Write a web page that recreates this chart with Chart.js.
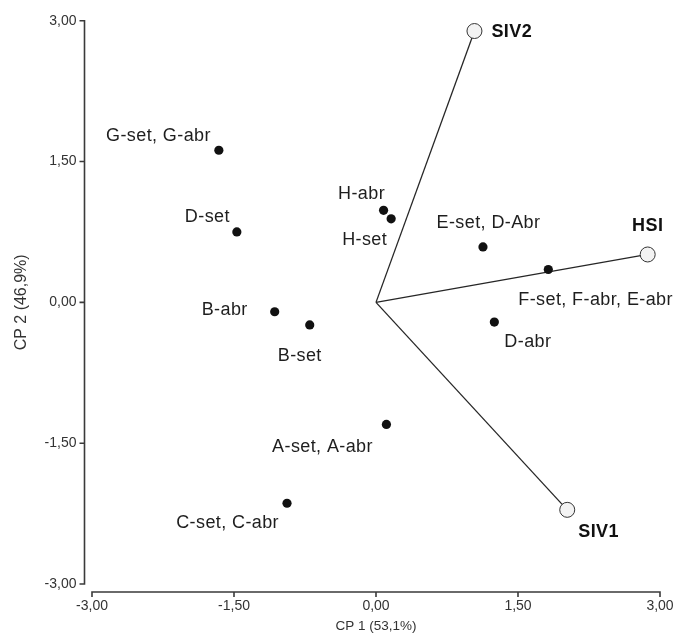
<!DOCTYPE html>
<html>
<head>
<meta charset="utf-8">
<script src="https://cdn.jsdelivr.net/npm/chart.js@4.4.0/dist/chart.umd.min.js"></script>
<style>
  html, body { margin: 0; padding: 0; background: #fff; }
  canvas { display: block; }
</style>
</head>
<body>
<canvas id="biplot" width="676" height="638"></canvas>
<script>
// Scores of the treatments on CP1 / CP2
const pointNames = [
  "G-set, G-abr", "D-set", "B-abr", "B-set", "C-set, C-abr", "A-set, A-abr",
  "H-abr", "H-set", "E-set, D-Abr", "F-set, F-abr, E-abr", "D-abr"
];
const pointX = [-1.66, -1.47, -1.07, -0.70, -0.94, 0.11, 0.08, 0.16, 1.13, 1.82, 1.25];
const pointY = [1.62, 0.75, -0.10, -0.24, -2.14, -1.30, 0.98, 0.89, 0.59, 0.35, -0.21];

// Loadings of the variables (vectors from the origin)
const vectorNames = ["SIV2", "HSI", "SIV1"];
const vectorX = [1.04, 2.87, 2.02];
const vectorY = [2.89, 0.51, -2.21];

const tickValues = [-3, -1.5, 0, 1.5, 3];
const xTitle = "CP 1 (53,1%)";
const yTitle = "CP 2 (46,9%)";

// where each name sits next to its dot, in px (baseline of the text)
const pointLabelPos = [
  { dx: -8, dy: -9.5, align: "right" },
  { dx: -7, dy: -10, align: "right" },
  { dx: -27, dy: 3.5, align: "right" },
  { dx: -10, dy: 36.5, align: "center" },
  { dx: -8, dy: 24.5, align: "right" },
  { dx: -13.5, dy: 27.5, align: "right" },
  { dx: 1.5, dy: -11.5, align: "right" },
  { dx: -4, dy: 26.5, align: "right" },
  { dx: 5.5, dy: -18.5, align: "center" },
  { dx: -30, dy: 35.5, align: "left" },
  { dx: 10, dy: 24.5, align: "left" }
];
const vectorLabelPos = [
  { dx: 17, dy: 6, align: "left" },
  { dx: 0, dy: -23.5, align: "center" },
  { dx: 11, dy: 27.5, align: "left" }
];

const fmt = v => v.toFixed(2).replace(".", ",");
const FONT = '"Liberation Sans", Arial, sans-serif';

// axes are drawn apart from the plot corner, like the original
const offsetAxes = {
  id: "offsetAxes",
  afterDraw(chart) {
    const { ctx, chartArea, scales: { x, y } } = chart;
    const ax = chartArea.left - 7.5;
    const ay = chartArea.bottom + 8;
    ctx.save();
    ctx.strokeStyle = "#3a3a3a";
    ctx.lineWidth = 1.6;
    ctx.beginPath();
    ctx.moveTo(ax, y.getPixelForValue(tickValues[tickValues.length - 1]));
    ctx.lineTo(ax, y.getPixelForValue(tickValues[0]));
    tickValues.forEach(v => {
      const py = y.getPixelForValue(v);
      ctx.moveTo(ax + 0.8, py);
      ctx.lineTo(ax - 5, py);
    });
    ctx.moveTo(x.getPixelForValue(tickValues[0]), ay);
    ctx.lineTo(x.getPixelForValue(tickValues[tickValues.length - 1]), ay);
    tickValues.forEach(v => {
      const px = x.getPixelForValue(v);
      ctx.moveTo(px, ay - 0.8);
      ctx.lineTo(px, ay + 5);
    });
    ctx.stroke();
    ctx.restore();
  }
};

const nameLabels = {
  id: "nameLabels",
  afterDatasetsDraw(chart) {
    const ctx = chart.ctx;
    ctx.save();
    ctx.fillStyle = "#1e1e1e";
    ctx.textBaseline = "alphabetic";
    ctx.letterSpacing = "0.4px";
    ctx.font = "18px " + FONT;
    chart.getDatasetMeta(0).data.forEach((el, i) => {
      const p = pointLabelPos[i];
      ctx.textAlign = p.align;
      ctx.fillText(pointNames[i], el.x + p.dx, el.y + p.dy);
    });
    ctx.font = "bold 18px " + FONT;
    ctx.fillStyle = "#111";
    vectorNames.forEach((name, i) => {
      const el = chart.getDatasetMeta(i + 1).data[1];
      const p = vectorLabelPos[i];
      ctx.textAlign = p.align;
      ctx.fillText(name, el.x + p.dx, el.y + p.dy);
    });
    ctx.restore();
  }
};

const datasets = [{
  type: "scatter",
  data: pointX.map((v, i) => ({ x: v, y: pointY[i] })),
  pointRadius: 4.6,
  pointBackgroundColor: "#111",
  pointBorderWidth: 0
}];
vectorNames.forEach((name, i) => {
  datasets.push({
    type: "line",
    label: name,
    data: [{ x: 0, y: 0 }, { x: vectorX[i], y: vectorY[i] }],
    borderColor: "#262626",
    borderWidth: 1.3,
    pointRadius: [0, 7.5],
    pointBackgroundColor: "#f3f3f3",
    pointBorderColor: "#333",
    pointBorderWidth: 1
  });
});

new Chart(document.getElementById("biplot"), {
  data: { datasets },
  options: {
    responsive: false,
    animation: false,
    layout: { padding: { top: 20.7, right: 16, left: 0, bottom: 0 } },
    plugins: { legend: { display: false }, tooltip: { enabled: false } },
    scales: {
      x: {
        type: "linear",
        min: -3, max: 3,
        afterBuildTicks: s => { s.ticks = tickValues.map(v => ({ value: v })); },
        afterFit: s => { s.height = 54; s.paddingLeft = 0; s.paddingRight = 0; },
        grid: { display: false, drawTicks: false },
        border: { display: false },
        ticks: { padding: 14, color: "#333", font: { family: FONT, size: 14 }, callback: v => fmt(v), maxRotation: 0 },
        title: { display: true, text: xTitle, color: "#333", font: { family: FONT, size: 13.5 }, padding: { top: 0, bottom: 4 } }
      },
      y: {
        type: "linear",
        min: -3, max: 3,
        afterBuildTicks: s => { s.ticks = tickValues.map(v => ({ value: v })); },
        afterFit: s => { s.width = 92; s.paddingTop = 0; s.paddingBottom = 0; },
        grid: { display: false, drawTicks: false },
        border: { display: false },
        ticks: { padding: 15.5, color: "#333", font: { family: FONT, size: 14 }, callback: v => fmt(v) },
        title: { display: true, text: yTitle, color: "#333", font: { family: FONT, size: 16 }, padding: { top: 11.5, bottom: 0 } }
      }
    }
  },
  plugins: [offsetAxes, nameLabels]
});
</script>
</body>
</html>
